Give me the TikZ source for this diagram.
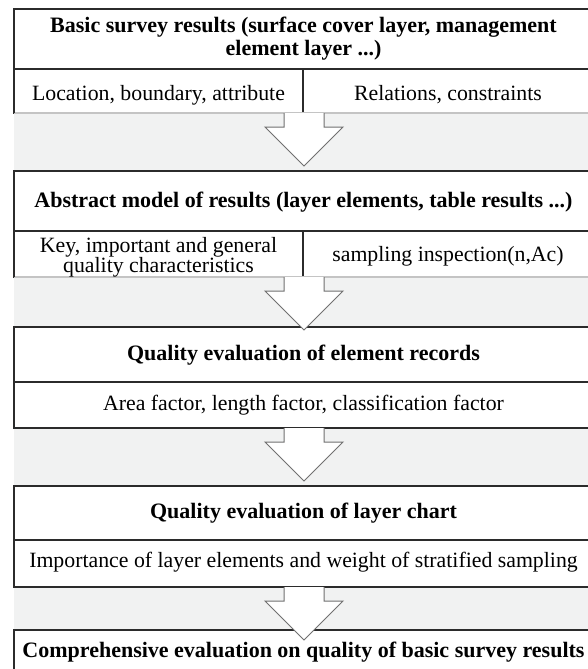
\documentclass[tikz,border=0pt]{standalone}
\usepackage{fontspec}
\setmainfont{Liberation Serif}
\usetikzlibrary{calc}
\definecolor{bandgray}{HTML}{F1F2F2}
\definecolor{boxedge}{HTML}{2B2B2B}
\definecolor{arrowedge}{HTML}{707070}
\definecolor{faintedge}{HTML}{C4C4C4}
\newcommand{\blockarrow}[1]{%
  \path[arrowline, shift={(#1)}] (-20,0) -- (-20,14) -- (-39,14) -- (0,53) -- (39,14) -- (20,14) -- (20,0);}
\begin{document}
\begin{tikzpicture}[x=1pt, y=-1pt,
  cellbox/.style={draw=boxedge, line width=1.1pt, fill=white, rectangle, anchor=north west, inner sep=0pt, outer sep=0pt},
  titletext/.style={font=\fontsize{22}{23}\selectfont\bfseries, align=center, inner sep=0pt},
  bodytext/.style={font=\fontsize{21.8}{18.7}\selectfont, align=center, inner sep=0pt},
  arrowline/.style={draw=arrowedge, line width=1pt, fill=white, line join=miter}]
\useasboundingbox (0,0) rectangle (588,669);
\clip (0,0) rectangle (588,669);
\fill[bandgray] (14,113) rectangle (600,680);
% box 1
\node[cellbox, minimum width=579pt, minimum height=60pt] (t1) at (14,9) {};
\node[cellbox, minimum width=289pt, minimum height=44pt] (r1a) at (14,69) {};
\node[cellbox, minimum width=290pt, minimum height=44pt] (r1b) at (303,69) {};
% box 2
\node[cellbox, minimum width=579pt, minimum height=60pt] (t2) at (14,171) {};
\node[cellbox, minimum width=289pt, minimum height=46pt] (r2a) at (14,231) {};
\node[cellbox, minimum width=290pt, minimum height=46pt] (r2b) at (303,231) {};
% box 3
\node[cellbox, minimum width=579pt, minimum height=55pt] (t3) at (14,327) {};
\node[cellbox, minimum width=579pt, minimum height=46pt] (r3) at (14,382) {};
% box 4
\node[cellbox, minimum width=579pt, minimum height=54pt] (t4) at (14,486) {};
\node[cellbox, minimum width=579pt, minimum height=47pt] (r4) at (14,540) {};
% box 5
\node[cellbox, minimum width=579pt, minimum height=60pt] (t5) at (14,630) {};
% faint lower edges
\draw[faintedge, line width=1.1pt] (r1a.south west) -- (r1b.south east);
\draw[faintedge, line width=1.1pt] (r2a.south west) -- (r2b.south east);
\draw[boxedge, line width=1.1pt] (r1a.north west) -- (r1a.south west) (r2a.north west) -- (r2a.south west);
% texts
\node[titletext] (t1x) at (303.5,38.5) {Basic survey results (surface cover layer, management\\element layer ...)};
\node[bodytext, anchor=base] (r1ax) at (158.5,100) {Location, boundary, attribute};
\node[bodytext, anchor=base] (r1bx) at (448,100) {Relations, constraints};
\node[titletext, anchor=base] (t2x) at (303.5,207.5) {Abstract model of results (layer elements, table results ...)};
\node[bodytext] (r2ax) at (158.5,257.3) {Key, important and general\\quality characteristics};
\node[bodytext, anchor=base] (r2bx) at (448,261) {sampling inspection(n,Ac)};
\node[titletext, anchor=base] (t3x) at (303.5,360) {Quality evaluation of element records};
\node[bodytext, anchor=base] (r3x) at (303.5,410) {Area factor, length factor, classification factor};
\node[titletext, anchor=base] (t4x) at (303.5,518) {Quality evaluation of layer chart};
\node[bodytext, anchor=base] (r4x) at (303.5,567) {Importance of layer elements and weight of stratified sampling};
\node[titletext, anchor=base] (t5x) at (303.5,657) {Comprehensive evaluation on quality of basic survey results};
% arrows
\coordinate (a1) at ($(r1a.south east)+(1,0)$);
\coordinate (a2) at ($(r2a.south east)+(1,0)$);
\coordinate (a3) at ($(r3.south)+(0.5,0)$);
\coordinate (a4) at ($(r4.south)+(0.5,0)$);
\blockarrow{a1}
\blockarrow{a2}
\blockarrow{a3}
\blockarrow{a4}
\end{tikzpicture}
\end{document}
